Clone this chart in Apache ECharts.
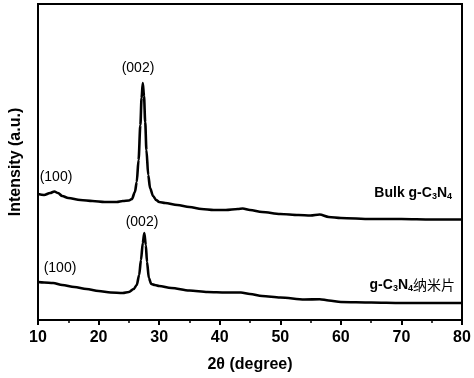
<!DOCTYPE html>
<html>
<head>
<meta charset="utf-8">
<script src="https://cdn.jsdelivr.net/npm/echarts@6/dist/echarts.min.js"></script>
<style>
  html, body { margin: 0; padding: 0; background: #fff; }
  #chart { width: 474px; height: 378px; }
</style>
</head>
<body>
<div id="chart"></div>
<script>
// 2theta (deg) and intensity (a.u.)
const bulkTheta = [10, 11, 12, 12.7, 13.3, 14, 15, 17, 19, 21, 23, 24, 25, 25.5, 26, 26.3, 26.6, 26.9, 27.1, 27.3,
  27.5, 27.7, 27.9, 28.2, 28.5, 29, 29.5, 30, 31, 33, 35, 37, 39, 41, 43, 43.8, 45, 47, 50, 53, 55, 56.5, 58, 60, 65, 70, 75, 80];
const bulkInt = [126, 125, 127, 128.5, 127, 124, 122, 120, 119, 118, 118, 119, 119.5, 121, 128, 138, 160, 195, 222, 237,
  224, 198, 170, 145, 132, 124, 120, 118, 117, 115, 113, 111, 110, 110, 111, 111.5, 110, 108, 106, 105, 104.5, 105.5, 103, 102, 101, 101, 100.5, 100.5];

const nanoTheta = [10, 11, 12.5, 14, 16, 18, 20, 22, 24, 25, 25.8, 26.3, 26.7, 27, 27.3, 27.55, 27.8, 28, 28.3, 28.7,
  29.3, 30, 32, 35, 38, 41, 43.5, 45, 47, 50, 54, 56.5, 58, 60, 65, 70, 75, 80];
const nanoInt = [38, 37.5, 37, 35, 33, 31, 29, 27.5, 27, 28, 31, 35, 45, 60, 77, 87, 75, 58, 42, 36,
  35, 34, 32, 29.5, 28, 27.5, 27.5, 26, 24, 22.5, 20.5, 20.8, 19.5, 18, 17.5, 17, 17, 17];

const xTicks = [10, 20, 30, 40, 50, 60, 70, 80];

const pairs = (xs, ys) => xs.map((x, i) => [x, ys[i]]);

const chart = echarts.init(document.getElementById('chart'));
const font = 'Liberation Sans, Arial, sans-serif';

chart.setOption({
  animation: false,
  grid: {
    left: 35, right: 12, top: 4, bottom: 58,
    show: true, borderColor: '#000', borderWidth: 2
  },
  xAxis: {
    type: 'value',
    min: 10, max: 80, interval: 10,
    name: '2θ (degree)',
    nameLocation: 'middle',
    nameGap: 37,
    nameTextStyle: {color: '#000', fontSize: 16, fontWeight: 'bold', fontFamily: font},
    axisLine: {show: true, lineStyle: {color: '#000', width: 2}},
    axisTick: {show: true, length: 5, lineStyle: {color: '#000', width: 2}},
    minorTick: {show: true, splitNumber: 2, length: 3, lineStyle: {color: '#000', width: 1.5}},
    axisLabel: {
      color: '#000', fontSize: 16, fontWeight: 'bold', fontFamily: font, margin: 10,
      formatter: v => xTicks.includes(v) ? String(v) : ''
    },
    splitLine: {show: false}
  },
  yAxis: {
    type: 'value',
    min: 0, max: 316,
    name: 'Intensity (a.u.)',
    nameLocation: 'middle',
    nameGap: 14,
    nameTextStyle: {color: '#000', fontSize: 16, fontWeight: 'bold', fontFamily: font},
    axisLine: {show: true, lineStyle: {color: '#000', width: 2}},
    axisTick: {show: false},
    axisLabel: {show: false},
    splitLine: {show: false}
  },
  series: [
    {
      name: 'Bulk g-C3N4',
      type: 'line',
      data: pairs(bulkTheta, bulkInt),
      symbol: 'none',
      smooth: 0.3,
      smoothMonotone: 'x',
      lineStyle: {color: '#000', width: 2.6}
    },
    {
      name: 'g-C3N4 nanosheet',
      type: 'line',
      data: pairs(nanoTheta, nanoInt),
      symbol: 'none',
      smooth: 0.3,
      smoothMonotone: 'x',
      lineStyle: {color: '#000', width: 2.6}
    }
  ],
  graphic: [
    {type: 'text', x: 138, y: 68, style: {text: '(002)', fill: '#000', font: '14px ' + font, align: 'center', verticalAlign: 'middle'}},
    {type: 'text', x: 56, y: 177, style: {text: '(100)', fill: '#000', font: '14px ' + font, align: 'center', verticalAlign: 'middle'}},
    {type: 'text', x: 142, y: 222, style: {text: '(002)', fill: '#000', font: '14px ' + font, align: 'center', verticalAlign: 'middle'}},
    {type: 'text', x: 60, y: 268, style: {text: '(100)', fill: '#000', font: '14px ' + font, align: 'center', verticalAlign: 'middle'}},
    {
      type: 'text', x: 452, y: 193,
      style: {
        text: '{b|Bulk g-C}{s|3}{b|N}{s|4}',
        align: 'right', verticalAlign: 'middle',
        rich: {
          b: {fill: '#000', fontSize: 14, fontWeight: 'bold', fontFamily: font},
          s: {fill: '#000', fontSize: 9, fontWeight: 'bold', fontFamily: font, verticalAlign: 'bottom', padding: [8, 0, 0, 0]}
        }
      }
    },
    {
      type: 'text', x: 455, y: 285,
      style: {
        text: '{b|g-C}{s|3}{b|N}{s|4}{c|纳米片}',
        align: 'right', verticalAlign: 'middle',
        rich: {
          b: {fill: '#000', fontSize: 14, fontWeight: 'bold', fontFamily: font},
          s: {fill: '#000', fontSize: 9, fontWeight: 'bold', fontFamily: font, verticalAlign: 'bottom', padding: [8, 0, 0, 0]},
          c: {fill: '#000', fontSize: 14, fontFamily: 'Noto Sans CJK SC'}
        }
      }
    }
  ]
});
</script>
</body>
</html>
